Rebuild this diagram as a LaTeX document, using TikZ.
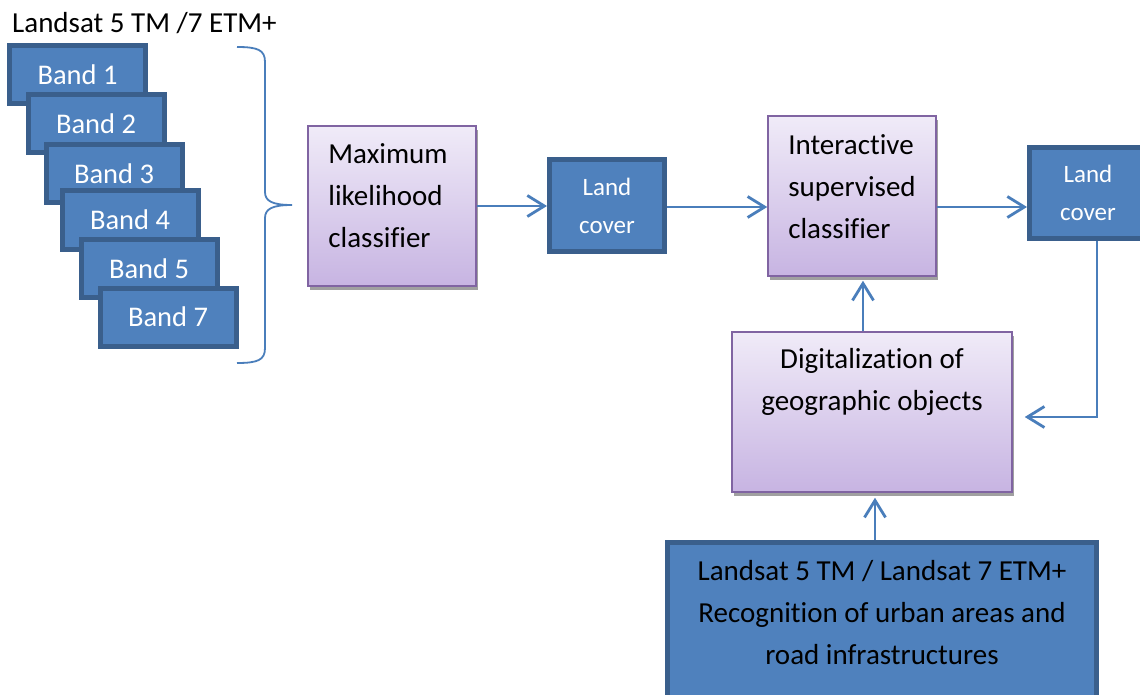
\documentclass[tikz,border=0pt]{standalone}
\usepackage{fontspec}
\setmainfont[Ligatures=CommonOff]{Carlito}
\usetikzlibrary{arrows.meta,calc,shadows}
\definecolor{bfill}{HTML}{4F81BD}
\definecolor{bdraw}{HTML}{3A5F8C}
\definecolor{lcol}{HTML}{4A7EBB}
\definecolor{pdraw}{HTML}{8064A2}
\definecolor{ptop}{HTML}{F0EBF8}
\definecolor{pbot}{HTML}{C7B4E2}
\definecolor{shcol}{HTML}{A0A0A0}
\tikzset{
  bigfont/.style={font=\fontsize{29}{42}\selectfont},
  band/.style={rectangle, fill=bfill, draw=bdraw, line width=5pt,
    minimum width=136pt, minimum height=58pt, inner sep=0pt,
    text=white, font=\fontsize{28.5}{34}\selectfont},
  lcbox/.style={rectangle, fill=bfill, draw=bdraw, line width=5pt,
    inner sep=0pt, text=white, align=center, font=\fontsize{25}{38}\selectfont},
  bluebox/.style={rectangle, fill=bfill, draw=bdraw, line width=5pt, inner sep=0pt},
  pbox/.style={rectangle, draw=pdraw, line width=1.5pt, top color=ptop, bottom color=pbot,
    inner sep=0pt,
    general shadow={shadow xshift=2pt, shadow yshift=-4pt, fill=shcol}},
  txt/.style={bigfont, inner sep=0pt, text=black},
  arr/.style={draw=lcol, line width=2.8pt, -{Straight Barb[length=17pt,width=21pt,line width=2.8pt]}},
  brace/.style={draw=lcol, line width=1.8pt},
}
\begin{document}
\begin{tikzpicture}[x=1pt,y=-1pt]
\useasboundingbox (0,0) rectangle (1140,695);
\clip (0,0) rectangle (1140,695);
\fill[white] (0,0) rectangle (1140,695);

% title
\node[txt, anchor=base west] (title) at (12,33) {Landsat 5 TM /7 ETM+};

% bands
\node[band] (b1) at (77.5,75) {Band 1};
\node[band] (b2) at (96,124) {Band 2};
\node[band] (b3) at (114,174) {Band 3};
\node[band] (b4) at (130,220) {Band 4};
\node[band] (b5) at (149,268.5) {Band 5};
\node[band] (b7) at (168,317) {Band 7};

% brace
\coordinate (brtop) at (237,47);
\coordinate (brtip) at (292,205);
\coordinate (brbot) at (237,363);
\draw[brace] (brtop) .. controls (258,47) and (265,50) .. (265,62) -- (265,192)
  .. controls (265,201) and (272,205) .. (brtip)
  .. controls (272,205) and (265,209) .. (265,218) -- (265,348)
  .. controls (265,360) and (258,363) .. (brbot);

% maximum likelihood classifier
\node[pbox, minimum width=168pt, minimum height=160pt] (mlc) at (392,206) {};
\node[txt, align=left] (mlct) at (388,196) {Maximum\\likelihood\\classifier};

% land cover 1
\node[lcbox, minimum width=115pt, minimum height=92pt] (lc1) at (607,205.5) {Land\\cover};

% interactive supervised classifier
\node[pbox, minimum width=168pt, minimum height=160pt] (isc) at (852,196) {};
\node[txt, align=left] (isct) at (852,187) {Interactive\\supervised\\classifier};

% land cover 2
\node[lcbox, minimum width=117pt, minimum height=91pt] (lc2) at (1088,193) {Land\\cover};

% digitalization
\node[pbox, minimum width=280pt, minimum height=160pt] (dig) at (872,412) {};
\node[txt, align=center] (digt) at (872,382) {Digitalization of\\geographic objects};

% bottom box
\node[bluebox, minimum width=429pt, minimum height=185pt] (rec) at (882,635) {};
\node[txt, align=center] (rect) at (882,613) {Landsat 5 TM / Landsat 7 ETM+\\Recognition of urban areas and\\road infrastructures};

% connectors
\draw[arr] (mlc.east) -- (mlc.east -| lc1.west);
\draw[arr] ([yshift=-1.5pt]lc1.east) -- ([yshift=-1.5pt]lc1.east -| isc.west);
\draw[arr] ([yshift=-11pt]isc.east) -- ([yshift=-11pt]isc.east -| lc2.west);
\coordinate (turn) at (1097,417);
\draw[arr, shorten >=12pt] (lc2.south -| turn) -- (turn) -- (turn -| dig.east);
\draw[arr, shorten >=4pt] ([xshift=-9pt]dig.north) -- ([xshift=-9pt]dig.north |- isc.south);
\draw[arr, shorten >=5pt] ([xshift=-7pt]rec.north) -- ([xshift=-7pt]rec.north |- dig.south);
\end{tikzpicture}
\end{document}
